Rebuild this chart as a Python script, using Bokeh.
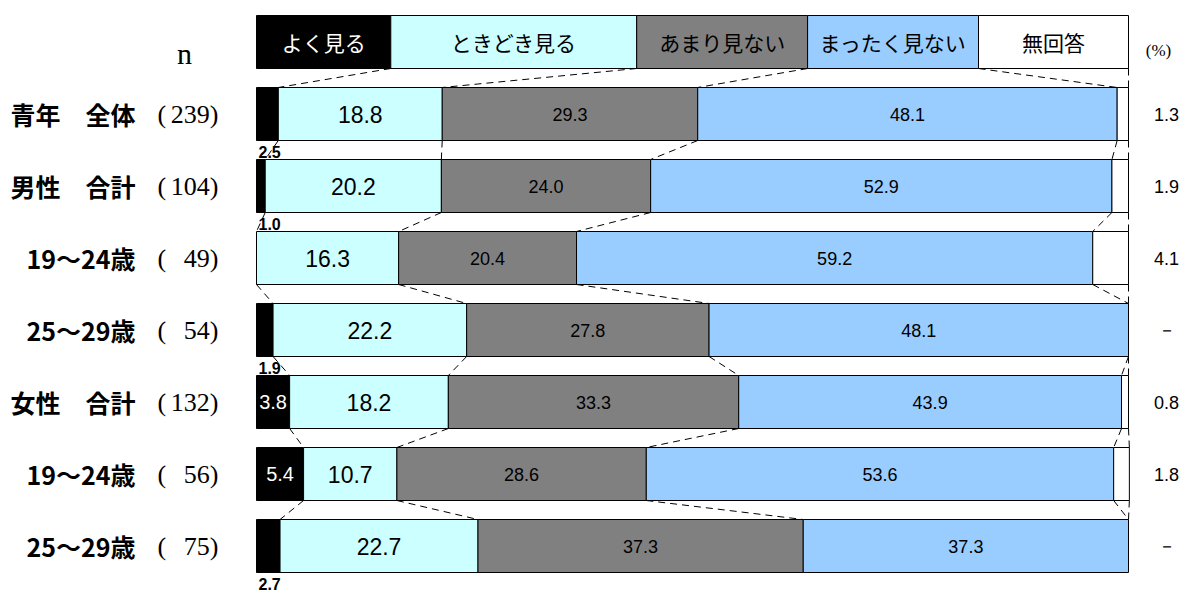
from bokeh.plotting import figure
from bokeh.models import Range1d
from bokeh.core.properties import value
from bokeh.embed import file_html
from bokeh.resources import INLINE

# ---------------- data ----------------
categories = ["青年　全体", "男性　合計", "19～24歳", "25～29歳", "女性　合計", "19～24歳", "25～29歳"]
n_values = [239, 104, 49, 54, 132, 56, 75]
series_names = ["よく見る", "ときどき見る", "あまり見ない", "まったく見ない", "無回答"]
often = [2.5, 1.0, 0.0, 1.9, 3.8, 5.4, 2.7]
sometimes = [18.8, 20.2, 16.3, 22.2, 18.2, 10.7, 22.7]
rarely = [29.3, 24.0, 20.4, 27.8, 33.3, 28.6, 37.3]
never = [48.1, 52.9, 59.2, 48.1, 43.9, 53.6, 37.3]
no_answer = [1.3, 1.9, 4.1, 0.0, 0.8, 1.8, 0.0]
header_widths = [15.4, 28.2, 19.6, 19.6, 17.2]

series = [often, sometimes, rarely, never, no_answer]
colors = ["#000000", "#CCFFFF", "#808080", "#99CCFF", "#FFFFFF"]

# ---------------- layout ----------------
PX = 8.72            # pixels per percent
X0 = 256             # screen x of 0 %
ROW = 72.0           # pixels per row
Y0 = 41.5            # screen y of header center
OFF = 0              # page offset of the figure
W, H = 1186, 594
BH = 53 / ROW        # bar height in row units
HB = BH / 2

def sx(px):
    return (px - X0) / PX

def sy(py):
    return (py - Y0) / ROW

p = figure(width=W, height=H, output_backend="svg", toolbar_location=None,
           x_range=Range1d(sx(OFF), sx(OFF + W)),
           y_range=Range1d(sy(OFF + H), sy(OFF)),
           x_axis_location=None, y_axis_location=None, min_border=0,
           outline_line_color=None, background_fill_color="white")
p.xgrid.visible = False
p.ygrid.visible = False

SANS = "Liberation Sans"
JP = "Noto Sans CJK JP"
SERIF = "Liberation Serif"

# ---------------- header boxes ----------------
h_left, h_right = [], []
acc = 0.0
for w in header_widths:
    h_left.append(acc)
    acc += w
    h_right.append(acc)
p.quad(left=h_left, right=h_right, top=[-HB] * 5, bottom=[HB] * 5,
       fill_color=colors, line_color="black", line_width=1)
p.text(x=[(a + b) / 2 for a, b in zip(h_left, h_right)], y=[0] * 5, text=series_names,
       text_color=["white", "black", "black", "black", "black"],
       text_font=value(JP), text_font_size="21px", text_align="center", text_baseline="middle")

# ---------------- bars ----------------
rows = list(range(1, len(categories) + 1))
cum = []  # cumulative boundaries per row
ql, qr, qt, qb, qc = [], [], [], [], []
for i, r in enumerate(rows):
    left = 0.0
    bounds = []
    for s, c in zip(series, colors):
        v = s[i]
        if v > 0:
            ql.append(left); qr.append(left + v); qt.append(r - HB); qb.append(r + HB); qc.append(c)
        left += v
        bounds.append(left)
    cum.append(bounds)
p.quad(left=ql, right=qr, top=qt, bottom=qb, fill_color=qc, line_color="black", line_width=1)

# ---------------- connectors ----------------
x0s, y0s, x1s, y1s = [], [], [], []
prev = h_right
prev_y = 0
for i, r in enumerate(rows):
    for k in range(5):
        x0s.append(prev[k]); y0s.append(prev_y + HB)
        x1s.append(cum[i][k]); y1s.append(r - HB)
    prev = cum[i]
    prev_y = r
p.segment(x0=x0s, y0=y0s, x1=x1s, y1=y1s, line_color="black", line_width=1, line_dash="7 5")

# ---------------- value labels ----------------
in_x, in_y, in_t = [], [], []
out_x, out_y, out_t = [], [], []
for i, r in enumerate(rows):
    v = often[i]
    if v >= 3:
        in_x.append(v / 2); in_y.append(r); in_t.append(f"{v:.1f}")
    elif v > 0:
        out_x.append(sx(258)); out_y.append(r + 0.53); out_t.append(f"{v:.1f}")
p.text(x=in_x, y=in_y, text=in_t, text_color="white", text_font=value(SANS),
       text_font_size="20px", text_align="center", text_baseline="middle")
p.text(x=out_x, y=out_y, text=out_t, text_color="black", text_font=value(SANS),
       text_font_style="bold", text_font_size="16px", text_align="left", text_baseline="middle")

p.text(x=[cum[i][0] + sometimes[i] / 2 for i in range(len(rows))], y=rows,
       text=[f"{v:.1f}" for v in sometimes], text_color="black", text_font=value(SANS),
       text_font_size="23px", text_align="center", text_baseline="middle")
for k, s in ((2, rarely), (3, never)):
    p.text(x=[cum[i][k - 1] + s[i] / 2 for i in range(len(rows))], y=rows,
           text=[f"{v:.1f}" for v in s], text_color="black", text_font=value(SANS),
           text_font_size="18px", text_align="center", text_baseline="middle")
p.text(x=[sx(1166)] * len(rows), y=rows,
       text=[f"{v:.1f}" if v > 0 else "－" for v in no_answer], text_color="black",
       text_font=value(SANS), text_font_size="18px", text_align="center", text_baseline="middle")
p.text(x=[sx(1158)], y=[sy(50)], text=["(%)"], text_color="black",
       text_font=value(SERIF), text_font_size="17px", text_align="center", text_baseline="middle")

# ---------------- row labels ----------------
p.text(x=[sx(135)] * len(rows), y=rows, text=categories, text_color="black",
       text_font=value(JP), text_font_style="bold", text_font_size="25px",
       text_align="right", text_baseline="middle")
p.text(x=[sx(157)] * len(rows), y=rows, text=["("] * len(rows), text_color="black",
       text_font=value(SERIF), text_font_size="26px", text_align="left", text_baseline="middle")
p.text(x=[sx(218)] * len(rows), y=rows, text=[f"{n})" for n in n_values], text_color="black",
       text_font=value(SERIF), text_font_size="26px", text_align="right", text_baseline="middle")
p.text(x=[sx(184)], y=[sy(53)], text=["n"], text_color="black",
       text_font=value(SERIF), text_font_size="30px", text_align="center", text_baseline="alphabetic")

open("out.html", "w").write(file_html(p, INLINE))
